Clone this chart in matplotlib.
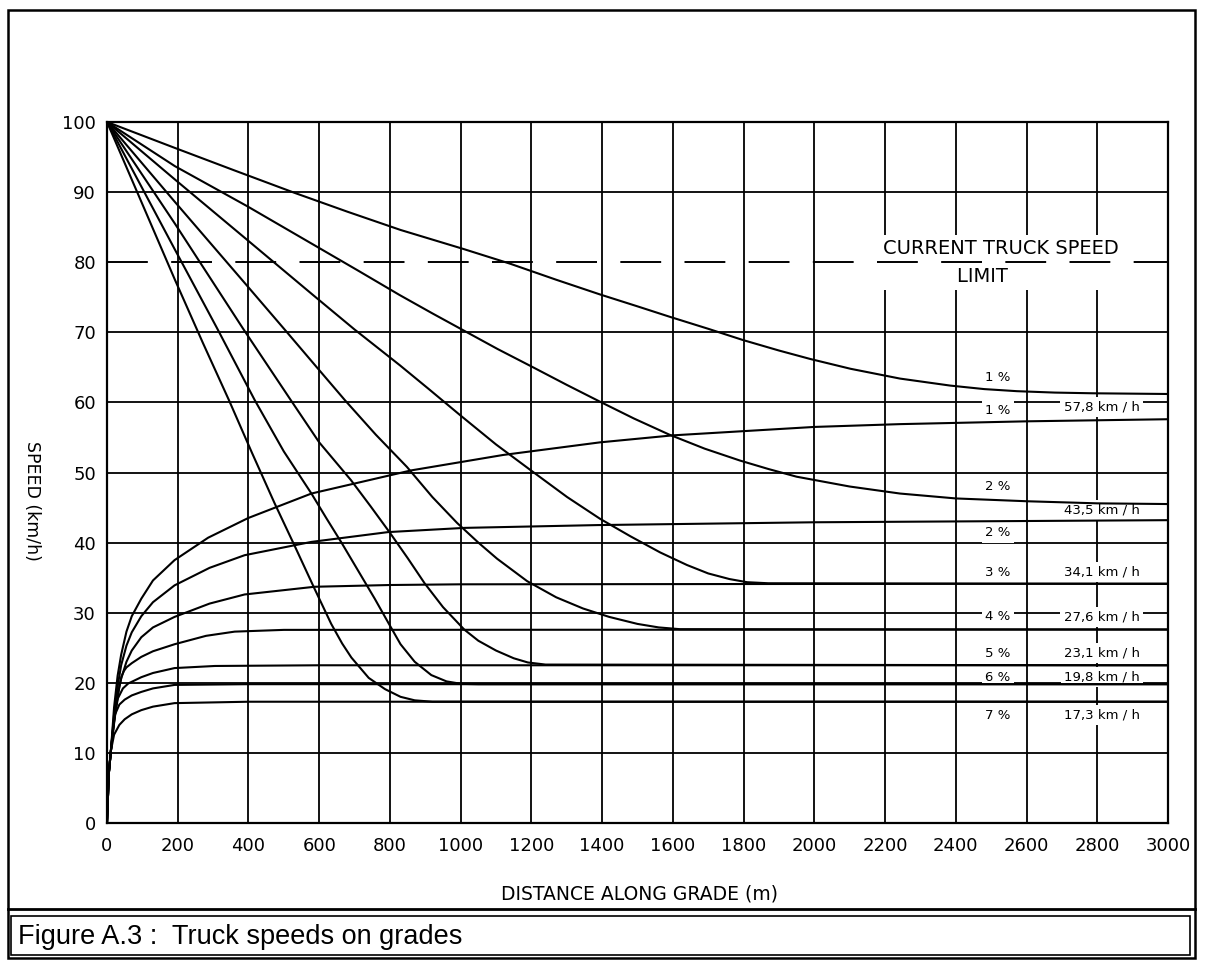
import matplotlib
matplotlib.use("Agg")
import matplotlib.pyplot as plt
from matplotlib.patches import Rectangle
from matplotlib.lines import Line2D

# grade labels, crawl speeds printed on the chart
grades = ["1 %", "2 %", "3 %", "4 %", "5 %", "6 %", "7 %"]
crawl_labels = ["57,8 km / h", "43,5 km / h", "34,1 km / h", "27,6 km / h",
                "23,1 km / h", "19,8 km / h", "17,3 km / h"]

# deceleration curves (entering the grade at 100 km/h)
decel_x = {
    "1 %": [0, 192, 360, 530, 680, 830, 1007, 1139, 1270, 1394, 1500, 1592, 1700, 1798, 1900,
            1988, 2102, 2242, 2384, 2480, 2573, 2680, 2788, 3000],
    "2 %": [0, 192, 396, 594, 710, 828, 920, 1007, 1105, 1205, 1300, 1394, 1490, 1590, 1690,
            1790, 1870, 1950, 2100, 2242, 2400, 2600, 2800, 3000],
    "3 %": [0, 192, 396, 583, 700, 828, 910, 998, 1100, 1196, 1301, 1394, 1480, 1564, 1640,
            1700, 1760, 1810, 1870, 3000],
    "4 %": [0, 192, 390, 509, 590, 673, 760, 848, 920, 990, 1050, 1103, 1188, 1270, 1346,
            1420, 1500, 1560, 1620, 3000],
    "5 %": [0, 192, 385, 520, 600, 690, 745, 800, 850, 898, 950, 1010, 1050, 1100, 1150,
            1190, 1240, 3000],
    "6 %": [0, 192, 311, 418, 500, 578, 620, 663, 710, 757, 795, 830, 870, 917, 960, 1002,
            1050, 3000],
    "7 %": [0, 192, 271, 345, 410, 474, 530, 587, 634, 665, 691, 740, 786, 830, 870, 920, 3000],
}
decel_y = {
    "1 %": [100, 96.3, 93.1, 89.9, 87.2, 84.6, 81.9, 79.8, 77.5, 75.4, 73.7, 72.2, 70.5, 68.9,
            67.4, 66.2, 64.8, 63.4, 62.4, 61.9, 61.6, 61.4, 61.3, 61.2],
    "2 %": [100, 93.7, 88.0, 82.2, 78.8, 75.3, 72.7, 70.3, 67.6, 65.0, 62.5, 60.1, 57.7, 55.4,
            53.4, 51.7, 50.5, 49.4, 48.0, 47.0, 46.3, 45.9, 45.6, 45.5],
    "3 %": [100, 91.8, 83.2, 75.3, 70.4, 65.3, 61.9, 58.2, 54.0, 50.4, 46.5, 43.4, 40.9, 38.6,
            36.8, 35.6, 34.8, 34.35, 34.2, 34.1],
    "4 %": [100, 88.6, 77.0, 70.0, 65.2, 60.3, 55.4, 50.8, 46.5, 42.8, 40.0, 37.7, 34.5, 32.2,
            30.6, 29.4, 28.4, 27.9, 27.65, 27.6],
    "5 %": [100, 85.5, 70.5, 60.3, 54.3, 48.9, 45.2, 41.4, 37.8, 34.2, 30.8, 27.6, 26.0, 24.6,
            23.5, 22.9, 22.6, 22.5],
    "6 %": [100, 81.8, 70.6, 60.3, 53.0, 47.0, 43.5, 40.0, 36.0, 32.0, 28.6, 25.5, 23.0, 21.1,
            20.2, 19.85, 19.8, 19.8],
    "7 %": [100, 77.5, 68.5, 60.3, 52.8, 45.6, 39.6, 33.4, 28.4, 25.6, 23.6, 20.7, 19.1, 18.0,
            17.5, 17.3, 17.3],
}

# acceleration curves (starting from rest at the foot of the grade)
accel_x = {
    "1 %": [0, 5, 11, 20, 30, 40, 55, 70, 97, 130, 191, 286, 399, 578, 860, 1120, 1394, 1600,
            2000, 2242, 2600, 3000],
    "2 %": [0, 5, 11, 20, 30, 40, 55, 70, 97, 130, 191, 290, 389, 578, 795, 1011, 1388, 2000, 3000],
    "3 %": [0, 5, 11, 20, 30, 40, 55, 70, 97, 130, 191, 290, 389, 587, 800, 1000, 3000],
    "4 %": [0, 5, 11, 20, 28, 35, 41, 48, 55, 70, 97, 130, 191, 280, 361, 500, 3000],
    "5 %": [0, 5, 11, 18, 24, 31, 45, 60, 97, 130, 191, 305, 600, 3000],
    "6 %": [0, 5, 11, 17, 22, 35, 50, 70, 97, 130, 191, 400, 3000],
    "7 %": [0, 5, 11, 20, 35, 50, 70, 97, 130, 191, 400, 3000],
}
accel_y = {
    "1 %": [0, 7, 10.3, 16.5, 21.0, 24.0, 27.3, 29.5, 32.0, 34.6, 37.5, 40.7, 43.5, 47.0, 50.3,
            52.5, 54.3, 55.3, 56.5, 56.9, 57.3, 57.6],
    "2 %": [0, 7, 10.3, 15.5, 19.5, 22.5, 25.3, 27.2, 29.5, 31.5, 33.9, 36.4, 38.2, 40.1, 41.5,
            42.1, 42.5, 42.9, 43.2],
    "3 %": [0, 7, 10.3, 14.8, 18.2, 20.6, 23.0, 24.6, 26.5, 27.9, 29.4, 31.3, 32.6, 33.7, 33.95,
            34.05, 34.15],
    "4 %": [0, 7, 10.3, 14.2, 17.3, 19.5, 20.9, 21.7, 22.2, 22.8, 23.7, 24.5, 25.5, 26.7, 27.3,
            27.55, 27.6],
    "5 %": [0, 7, 10.3, 13.6, 16.0, 17.8, 19.2, 19.9, 20.8, 21.4, 22.1, 22.4, 22.5, 22.5],
    "6 %": [0, 7, 10.3, 13.3, 15.4, 16.9, 17.6, 18.2, 18.7, 19.2, 19.7, 19.8, 19.8],
    "7 %": [0, 7, 10.3, 12.6, 14.0, 14.8, 15.5, 16.1, 16.6, 17.1, 17.3, 17.3],
}

# heights (km/h) of the grade tags and the crawl-speed tags
upper_tag_y = [63.5, 48.0, 35.8, 29.4, 24.2, 20.8, 15.4]
crawl_tag_y = [59.3, 44.7, 35.8, 29.4, 24.2, 20.8, 15.4]
lower_tag_y = {"1 %": 58.9, "2 %": 41.4}

x_ticks = list(range(0, 3001, 200))
y_ticks = list(range(0, 101, 10))
speed_limit = 80

fig = plt.figure(figsize=(12.07, 9.61), dpi=100)
W, H = 1207, 961
ax = fig.add_axes([107 / W, 1 - 823 / H, 1061 / W, 701 / H])

for g in grades:
    ax.plot(decel_x[g], decel_y[g], color="black", lw=1.5, zorder=4, solid_joinstyle="round")
    ax.plot(accel_x[g], accel_y[g], color="black", lw=1.5, zorder=4, solid_joinstyle="round")

# speed limit (dashed), drawn instead of the 80 grid line
ax.axhline(speed_limit, color="black", lw=1.4, dashes=(21, 12), zorder=6)
for yt in y_ticks[1:-1]:
    if yt != speed_limit:
        ax.axhline(yt, color="black", lw=1.3, zorder=1)

ax.set_xlim(0, 3000)
ax.set_ylim(0, 100)
ax.set_xticks(x_ticks)
ax.set_yticks(y_ticks)
ax.tick_params(length=0, labelsize=13, pad=8)
ax.tick_params(axis="x", pad=10)
ax.grid(True, axis="x", color="black", lw=1.3)
ax.set_axisbelow(True)
for s in ax.spines.values():
    s.set_linewidth(1.6)

ax.set_xlabel("DISTANCE ALONG GRADE (m)", fontsize=13.5)
ax.xaxis.set_label_coords(0.502, -0.088)
ax.set_ylabel("SPEED (km/h)", fontsize=12.5, rotation=270)
ax.yaxis.set_label_coords(-0.079, 0.46)

box = dict(facecolor="white", edgecolor="none", pad=2.5)
ax.text(2195, speed_limit, "CURRENT TRUCK SPEED\nLIMIT      ", fontsize=14, ha="left",
        va="center", multialignment="center", linespacing=1.6,
        bbox=dict(facecolor="white", edgecolor="none", pad=3), zorder=5)

for i, g in enumerate(grades):
    ax.text(2555, upper_tag_y[i], g, fontsize=9.5, ha="right", va="center", bbox=box, zorder=3)
    ax.text(2813, crawl_tag_y[i], crawl_labels[i], fontsize=9.5, ha="center", va="center",
            bbox=box, zorder=3)
for g, yv in lower_tag_y.items():
    ax.text(2555, yv, g, fontsize=9.5, ha="right", va="center", bbox=box, zorder=3)


# page frame and caption box, placed in pixel terms
def fx(px):
    return px / W


def fy(py):
    return 1 - py / H


fig.add_artist(Rectangle((fx(8), fy(958)), fx(1195) - fx(8), fy(10) - fy(958),
                         fill=False, lw=1.8, color="black", transform=fig.transFigure))
fig.add_artist(Line2D([fx(8), fx(1195)], [fy(909), fy(909)], lw=2.0, color="black",
                      transform=fig.transFigure))
fig.add_artist(Rectangle((fx(11), fy(955)), fx(1190) - fx(11), fy(916) - fy(955),
                         fill=False, lw=1.2, color="black", transform=fig.transFigure))
fig.text(fx(18), fy(937), "Figure A.3 :  Truck speeds on grades", fontsize=19.5,
         family="Liberation Sans", ha="left", va="center")

fig.savefig("out.png", dpi=100)
